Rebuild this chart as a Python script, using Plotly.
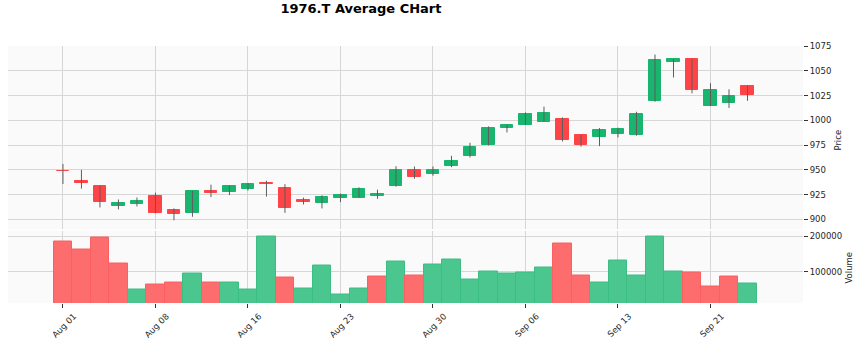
import plotly.graph_objects as go
from plotly.subplots import make_subplots
from datetime import datetime

# Daily OHLCV for 1976.T (trading days only)
dates = [
    "2022-08-01", "2022-08-02", "2022-08-03", "2022-08-04", "2022-08-05",
    "2022-08-08", "2022-08-09", "2022-08-10", "2022-08-12", "2022-08-15",
    "2022-08-16", "2022-08-17", "2022-08-18", "2022-08-19", "2022-08-22",
    "2022-08-23", "2022-08-24", "2022-08-25", "2022-08-26", "2022-08-29",
    "2022-08-30", "2022-08-31", "2022-09-01", "2022-09-02", "2022-09-05",
    "2022-09-06", "2022-09-07", "2022-09-08", "2022-09-09", "2022-09-12",
    "2022-09-13", "2022-09-14", "2022-09-15", "2022-09-16", "2022-09-20",
    "2022-09-21", "2022-09-22", "2022-09-26",
]
opens = [949, 939, 934, 913, 915.5, 923.5, 909.5, 906.5, 929, 928,
         930.7, 936.3, 931.5, 920, 916.7, 922, 922, 924, 933.3, 950.3,
         946, 954.4, 963.5, 974.7, 992.2, 995.3, 998.6, 1001, 985.2, 982.8,
         986.5, 985.2, 1019.5, 1059.5, 1061.9, 1014.4, 1017.2, 1035]
highs = [956, 950, 934, 920, 922, 927, 911, 928.6, 935, 934,
         936.7, 939, 935.5, 922, 924.3, 926, 932.3, 930, 953.7, 953.4,
         953.4, 964.2, 977.4, 993.9, 995.6, 1008.1, 1013.9, 1003, 985.2, 992.2,
         992.6, 1008.7, 1066.6, 1062, 1062, 1037.6, 1031.4, 1035]
lows = [935.7, 931, 912, 910, 913, 906, 899, 902.6, 922.5, 924.5,
        929, 923, 906.5, 915, 911, 917.3, 922, 920.7, 933, 941,
        944, 952.7, 962.5, 974.7, 987.8, 995.3, 998.6, 978.7, 973.4, 974,
        982.8, 984.5, 1018.8, 1043.4, 1027.3, 1014.4, 1012.6, 1019.8]
closes = [948.5, 937, 917, 916.3, 918.3, 906.5, 905.8, 928.5, 926.5, 933.5,
          935.3, 936, 911.5, 917, 922.3, 924.7, 930.3, 925.3, 950, 942.6,
          950.3, 958.8, 973.6, 992.6, 995.6, 1006.1, 1007.1, 980.4, 975, 990,
          991.2, 1006.4, 1061.2, 1061.9, 1031, 1030.5, 1024.3, 1025.2]
volumes = [185000, 162000, 196000, 122000, 50500, 64700, 69600, 96200, 69600, 70500,
           50500, 199000, 84800, 53400, 118000, 36200, 52500, 87600, 127600, 90500,
           119000, 133300, 79000, 101900, 94300, 99000, 110500, 179000, 89500, 70500,
           130500, 90500, 200000, 101900, 99000, 58000, 87600, 67600]

price_ticks = [900, 925, 950, 975, 1000, 1025, 1050, 1075]
volume_ticks = [100000, 200000]

UP, DOWN = "#19b46e", "#fe4446"
VOL_UP, VOL_DOWN = "#4bc68e", "#fd6d6e"
WICK = "#5e5e5e"
GRID = "#d6d6d6"
FACE = "#fafafa"
FONT = "DejaVu Sans"

n = len(dates)
idx = list(range(n))

# candle bodies as floating bars, wicks as vertical line segments
body_base = [min(o, c) for o, c in zip(opens, closes)]
body_len = [abs(c - o) for o, c in zip(opens, closes)]
body_col = [UP if c >= o else DOWN for o, c in zip(opens, closes)]

wick_x, wick_y = [], []
for i, h, l in zip(idx, highs, lows):
    wick_x += [i, i, None]
    wick_y += [l, h, None]

# volume colour follows the close-to-close change
vol_col = []
for i in idx:
    ref = opens[0] if i == 0 else closes[i - 1]
    vol_col.append(VOL_UP if closes[i] >= ref else VOL_DOWN)
vol_edge = ["#3bbd83" if c == VOL_UP else "#fb5f61" for c in vol_col]

tick_idx = list(range(0, n, 5))
tick_txt = [datetime.strptime(dates[i], "%Y-%m-%d").strftime("%b %d") for i in tick_idx]

fig = make_subplots(rows=2, cols=1, shared_xaxes=True, vertical_spacing=0.0)

fig.add_trace(go.Scatter(x=wick_x, y=wick_y, mode="lines",
                         line=dict(color=WICK, width=1), hoverinfo="skip"),
              row=1, col=1)
fig.add_trace(go.Bar(x=idx, y=body_len, base=body_base, width=0.66,
                     marker=dict(color=body_col, line=dict(color=body_col, width=1))),
              row=1, col=1)
fig.add_trace(go.Bar(x=idx, y=volumes, width=1.0,
                     marker=dict(color=vol_col, line=dict(color=vol_edge, width=1))),
              row=2, col=1)

axis_font = dict(family=FONT, size=8.5, color="#262626")
x_common = dict(range=[-2.97, 40.0], tickvals=tick_idx, gridcolor=GRID, gridwidth=1,
                zeroline=False, showline=False, tickfont=axis_font, automargin=False)
y_common = dict(side="right", gridcolor=GRID, zeroline=False, showline=False,
                ticks="outside", ticklen=4, tickcolor="#333333", tickfont=axis_font,
                automargin=False)

fig.update_layout(
    width=866, height=344,
    margin=dict(l=8, r=63, t=46, b=41, autoexpand=False),
    paper_bgcolor="white", plot_bgcolor=FACE,
    showlegend=False, bargap=0,
    title=dict(text="1976.T Average CHart", x=0.444, xref="paper", xanchor="center",
               y=0.974, yref="container", yanchor="middle",
               font=dict(family=FONT, size=13, color="black", weight="bold")),
    xaxis=dict(**x_common, showticklabels=False, ticks=""),
    xaxis2=dict(**x_common, ticktext=tick_txt, tickangle=-45, ticks="outside",
                ticklen=4, tickcolor="#333333", ticklabelshift=11),
    yaxis=dict(**y_common, domain=[0.286, 1.0], range=[889.7, 1075.2],
               tickvals=price_ticks),
    yaxis2=dict(**y_common, domain=[0.0, 0.282], range=[11300, 216700],
                tickvals=volume_ticks, tickformat="d"),
)

# axis titles placed beside the right-hand tick labels
label_font = dict(family=FONT, size=8.5, color="#262626")
fig.add_annotation(text="Price", xref="paper", yref="paper", x=1.0447, y=0.634,
                   textangle=-90, showarrow=False, font=label_font,
                   xanchor="center", yanchor="middle")
fig.add_annotation(text="Volume", xref="paper", yref="paper", x=1.0579, y=0.138,
                   textangle=-90, showarrow=False, font=label_font,
                   xanchor="center", yanchor="middle")

fig.write_html("out.html")
